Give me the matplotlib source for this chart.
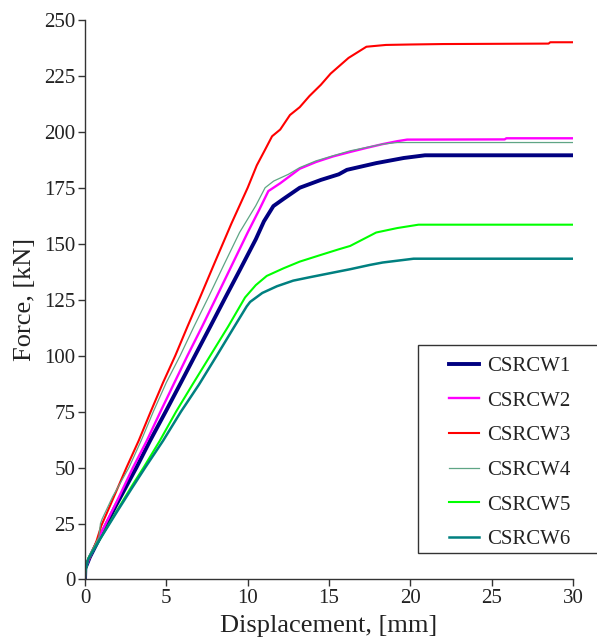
import matplotlib
matplotlib.use("Agg")
import matplotlib.pyplot as plt
from matplotlib.patches import Rectangle

# ----------------------------------------------------------
# force-displacement curves (mm, kN)
# ----------------------------------------------------------
x_w1 = [0, 0.02, 0.3, 1.0, 1.9, 3.16, 4.0, 4.96, 5.9, 6.76, 7.7, 8.63, 9.5,
        10.5, 11.0, 11.58, 12.2, 13.2, 14.5, 15.6, 16.1, 17.9, 19.6, 20.9, 30]
y_w1 = [0, 5, 10, 20, 33, 50, 62, 75, 88, 100, 113, 126, 138,
        152, 160, 166.8, 170, 175, 178.5, 181, 183, 186, 188.3, 189.5, 189.5]

x_w2 = [0, 0.02, 0.3, 1.0, 1.9, 2.95, 3.8, 4.64, 5.5, 6.3, 7.2, 8.07, 9.0,
        10.0, 10.7, 11.27, 12.0, 13.2, 14.2, 15.25, 16.3, 17.3, 18.3, 19.2,
        19.8, 25.8, 25.9, 30]
y_w2 = [0, 5, 10, 21, 34, 50, 62, 75, 88, 100, 113, 126, 140,
        155, 165, 173.5, 177, 183.5, 186.5, 189, 191, 192.8, 194.5, 195.8,
        196.5, 196.6, 197.1, 197.1]

x_w3 = [0, 0.02, 0.3, 0.7, 1.0, 1.6, 2.55, 3.3, 4.04, 4.8, 5.55, 6.3, 7.07,
        8.0, 9.0, 10.0, 10.56, 11.07, 11.5, 12.0, 12.6, 13.2, 13.8, 14.5, 15.1,
        16.2, 17.3, 18.5, 20.0, 22.0, 28.5, 28.6, 30]
y_w3 = [0, 6, 10, 17, 24, 34, 50, 62, 75, 88, 100, 113, 126,
        142, 159, 175, 185, 192, 198, 201, 207.5, 211, 216, 221, 226,
        233, 238, 238.8, 239, 239.2, 239.4, 240, 240]

x_w4 = [0, 0.02, 0.3, 0.85, 0.95, 1.05, 1.7, 2.7, 3.45, 4.2, 5.0, 5.85, 6.7,
        7.58, 8.5, 9.5, 10.5, 11.07, 11.6, 12.5, 13.2, 14.2, 15.25, 16.3,
        17.3, 18.3, 19.2, 30]
y_w4 = [0, 6, 11, 19, 25, 27, 37, 50, 62, 75, 88, 100, 113,
        126, 140, 155, 167, 175, 178, 181, 184, 187, 189.3, 191.5,
        193, 194.5, 195.2, 195.2]

x_w5 = [0, 0.02, 0.2, 0.92, 1.9, 2.9, 3.6, 4.6, 5.6, 6.6, 7.7, 8.8, 9.84,
        10.5, 11.17, 12.2, 13.2, 14.5, 15.6, 16.3, 17.9, 19.2, 20.5, 30]
y_w5 = [0, 3.5, 9.4, 18, 30, 42, 50, 62, 75, 87, 100, 113, 126,
        131.5, 135.6, 139, 142, 145, 147.5, 149, 155, 157, 158.5, 158.5]

x_w6 = [0, 0.02, 0.2, 0.92, 1.9, 2.9, 3.7, 4.8, 5.9, 7.0, 8.1, 9.1, 9.94,
        10.15, 10.9, 11.8, 12.8, 13.8, 15.6, 16.3, 17.5, 18.3, 20.2, 30]
y_w6 = [0, 4, 9, 18, 29.5, 41, 50, 62, 75, 87, 100, 112, 122,
        124, 128, 131, 133.5, 135, 137.6, 138.6, 140.5, 141.6, 143.3, 143.3]

labels = ["CSRCW1", "CSRCW2", "CSRCW3", "CSRCW4", "CSRCW5", "CSRCW6"]
x_ticks = [0, 5, 10, 15, 20, 25, 30]
y_ticks = [0, 25, 50, 75, 100, 125, 150, 175, 200, 225, 250]

plt.rcParams["font.family"] = ["Liberation Serif", "DejaVu Serif"]

fig = plt.figure(figsize=(5.97, 6.41), dpi=100)
ax = fig.add_axes([0.1424, 0.096, 0.8174, 0.873])

series = [
    (x_w1, y_w1, "#000080", 2.8),
    (x_w2, y_w2, "#ff00ff", 1.7),
    (x_w3, y_w3, "#ff0000", 1.5),
    (x_w4, y_w4, "#5fa585", 0.9),
    (x_w5, y_w5, "#00ff00", 1.5),
    (x_w6, y_w6, "#008080", 1.8),
]
for (xs, ys, col, lw), lab in zip(series, labels):
    ax.plot(xs, ys, color=col, lw=lw, label=lab)

ax.set_xlim(0, 30)
ax.set_ylim(0, 250)
ax.set_xticks(x_ticks)
ax.set_yticks(y_ticks)
ax.tick_params(direction="out", length=5, width=1, color="#333333",
               labelsize=15, labelcolor="#222222", pad=2)
for s in ["top", "right"]:
    ax.spines[s].set_visible(False)
for s in ["left", "bottom"]:
    ax.spines[s].set_color("#333333")
    ax.spines[s].set_linewidth(1)

ax.set_xlabel("Displacement, [mm]", fontsize=19, color="#222222", labelpad=5)
ax.set_ylabel("Force, [kN]", fontsize=19, color="#222222", labelpad=6)

# legend box drawn by hand so the padding matches
box = Rectangle((0.682, 0.047), 0.37, 0.372, transform=ax.transAxes,
                facecolor="white", edgecolor="#333333", lw=1,
                clip_on=False, zorder=4)
ax.add_patch(box)
leg = ax.legend(loc="upper left", bbox_to_anchor=(0.712, 0.428),
                frameon=False, fontsize=15, handlelength=1.44,
                handletextpad=0.38, labelspacing=0.72, borderpad=0.3)
leg.set_zorder(5)
for t in leg.get_texts():
    t.set_color("#222222")

fig.savefig("out.png", dpi=100, facecolor="white")
